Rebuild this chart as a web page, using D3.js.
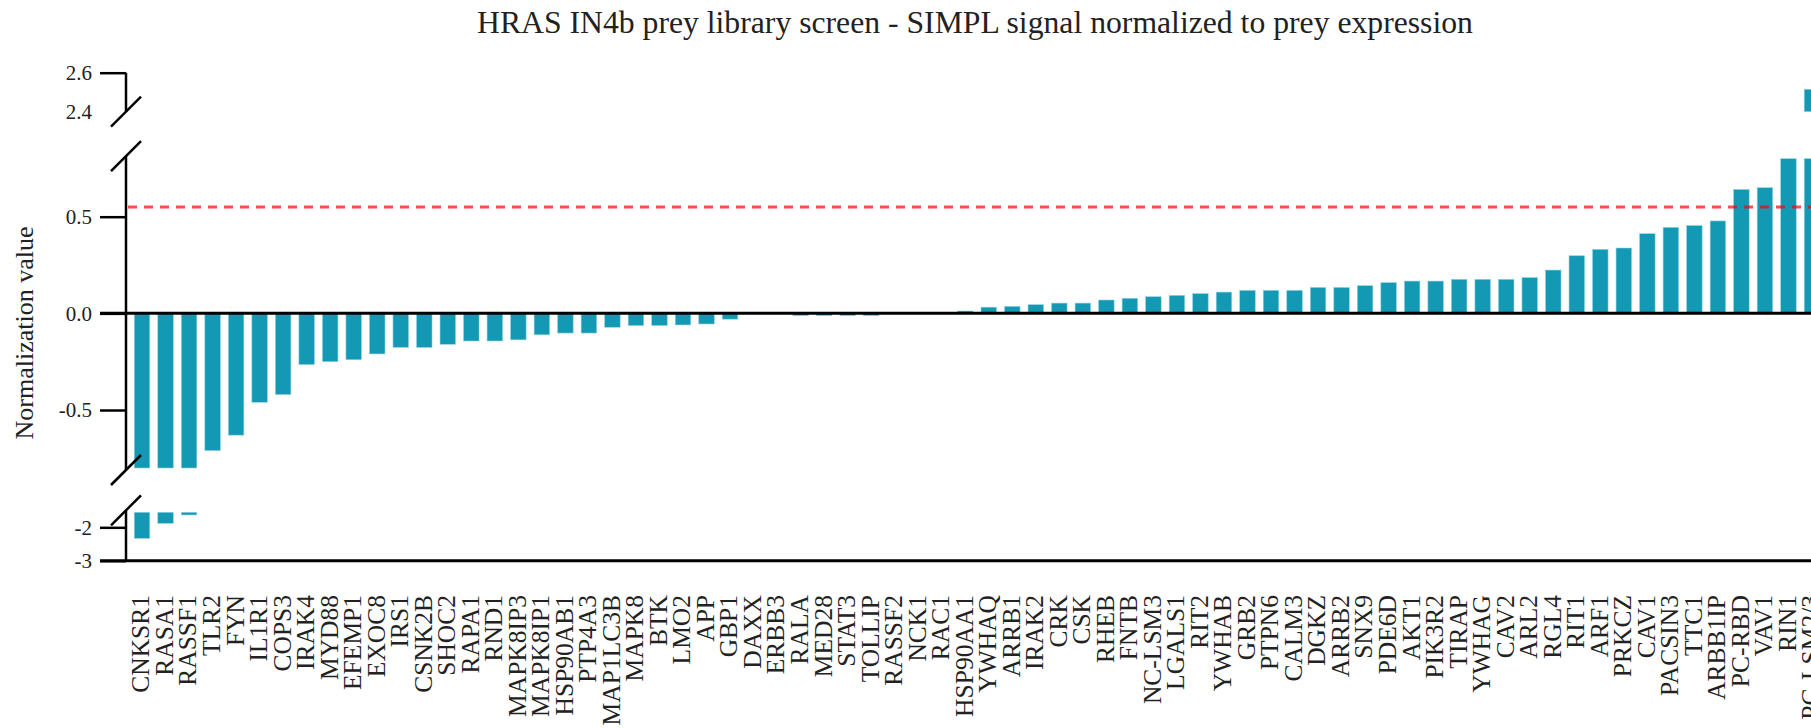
<!DOCTYPE html>
<html>
<head>
<meta charset="utf-8">
<script src="https://cdn.jsdelivr.net/npm/d3@7"></script>
<style>
  html, body { margin: 0; padding: 0; background: #fff; overflow: hidden; }
  text { font-family: "Liberation Serif", "Times New Roman", serif; }
</style>
</head>
<body>
<svg id="chart" width="1811" height="728"></svg>
<script>
// ---------------- data ----------------
const categories = [
  "CNKSR1","RASA1","RASSF1","TLR2","FYN","IL1R1","COPS3","IRAK4","MYD88","EFEMP1",
  "EXOC8","IRS1","CSNK2B","SHOC2","RAPA1","RND1","MAPK8IP3","MAPK8IP1","HSP90AB1","PTP4A3",
  "MAP1LC3B","MAPK8","BTK","LMO2","APP","GBP1","DAXX","ERBB3","RALA","MED28",
  "STAT3","TOLLIP","RASSF2","NCK1","RAC1","HSP90AA1","YWHAQ","ARRB1","IRAK2","CRK",
  "CSK","RHEB","FNTB","NC-LSM3","LGALS1","RIT2","YWHAB","GRB2","PTPN6","CALM3",
  "DGKZ","ARRB2","SNX9","PDE6D","AKT1","PIK3R2","TIRAP","YWHAG","CAV2","ARL2",
  "RGL4","RIT1","ARF1","PRKCZ","CAV1","PACSIN3","TTC1","ARBB1IP","PC-RBD","VAV1",
  "RIN1","PC-LSM2/3"
];
const values = [
  -2.33,-1.88,-1.63,-0.71,-0.63,-0.46,-0.42,-0.265,-0.25,-0.24,
  -0.21,-0.176,-0.176,-0.16,-0.143,-0.143,-0.137,-0.111,-0.102,-0.102,
  -0.072,-0.063,-0.063,-0.06,-0.055,-0.03,0,0,-0.012,-0.012,
  -0.012,-0.012,0,0,0,0.012,0.032,0.036,0.045,0.053,
  0.053,0.069,0.078,0.086,0.093,0.102,0.11,0.119,0.119,0.119,
  0.134,0.134,0.143,0.159,0.167,0.167,0.176,0.176,0.176,0.185,
  0.224,0.298,0.331,0.338,0.412,0.445,0.454,0.478,0.641,0.65,
  1.2,2.515
];
const threshold = 0.55;

// broken y-axis segments
const topDomain = [2.4, 2.6];
const midDomain = [-0.8, 0.8];
const botDomain = [-3, -1.55];
const topTicks = [2.6, 2.4];
const topTickLabels = ["2.6", "2.4"];
const midTicks = [0.5, 0.0, -0.5];
const midTickLabels = ["0.5", "0.0", "-0.5"];
const botTicks = [-2, -3];
const botTickLabels = ["-2", "-3"];

const title = "HRAS IN4b prey library screen - SIMPL signal normalized to prey expression";
const yTitle = "Normalization value";

// ---------------- layout ----------------
const svg = d3.select("#chart");
const axisX = 126;
const xRight = 1828;
const tickLen = 26;
const barColor = "#1399b3";

const x = d3.scaleBand().domain(categories).range([axisX, xRight])
  .paddingInner(0.34).paddingOuter(0.351);

const yTop = d3.scaleLinear().domain(topDomain).range([111.7, 72.7]);
const yMid = d3.scaleLinear().domain(midDomain).range([468, 158.7]);
const yBot = d3.scaleLinear().domain(botDomain).range([560.7, 512.3]);

const data = categories.map((c, i) => ({ c, v: values[i] }));

// title
svg.append("text")
  .attr("x", (axisX + xRight) / 2 - 2).attr("y", 33)
  .attr("text-anchor", "middle")
  .attr("font-size", 31.7).attr("fill", "#222")
  .text(title);

// y-axis title
svg.append("text")
  .attr("transform", "translate(24," + 333 + ") rotate(-90)")
  .attr("text-anchor", "middle").attr("dy", "0.35em")
  .attr("font-size", 26).attr("fill", "#222")
  .text(yTitle);

// bars - middle segment
const gBars = svg.append("g");
gBars.selectAll("rect.mid").data(data).join("rect")
  .attr("class", "mid")
  .attr("x", d => x(d.c)).attr("width", x.bandwidth())
  .attr("y", d => Math.min(yMid(0), yMid(Math.max(midDomain[0], Math.min(midDomain[1], d.v)))))
  .attr("height", d => Math.abs(yMid(Math.max(midDomain[0], Math.min(midDomain[1], d.v))) - yMid(0)))
  .attr("fill", barColor).attr("stroke", "#8fd3df").attr("stroke-width", 0.6);

// bars - top segment
gBars.selectAll("rect.top").data(data.filter(d => d.v > topDomain[0])).join("rect")
  .attr("class", "top")
  .attr("x", d => x(d.c)).attr("width", x.bandwidth())
  .attr("y", d => yTop(Math.min(d.v, topDomain[1])))
  .attr("height", d => yTop(topDomain[0]) - yTop(Math.min(d.v, topDomain[1])))
  .attr("fill", barColor).attr("stroke", "#8fd3df").attr("stroke-width", 0.6);

// bars - bottom segment
gBars.selectAll("rect.bot").data(data.filter(d => d.v < botDomain[1])).join("rect")
  .attr("class", "bot")
  .attr("x", d => x(d.c)).attr("width", x.bandwidth())
  .attr("y", yBot(botDomain[1]))
  .attr("height", d => yBot(Math.max(d.v, botDomain[0])) - yBot(botDomain[1]))
  .attr("fill", barColor).attr("stroke", "#8fd3df").attr("stroke-width", 0.6);

// threshold line
svg.append("line")
  .attr("x1", axisX + 2).attr("x2", xRight)
  .attr("y1", yMid(threshold)).attr("y2", yMid(threshold))
  .attr("stroke", "#ff0000").attr("stroke-opacity", 0.7)
  .attr("stroke-width", 3).attr("stroke-dasharray", "9,7");

// axes
function yAxis(scale, ticks, labels) {
  const ax = d3.axisLeft(scale).tickValues(ticks)
    .tickFormat((d, i) => labels[i]).tickSize(tickLen).tickPadding(8);
  const g = svg.append("g").attr("transform", "translate(" + axisX + ",0)").call(ax);
  g.select(".domain").remove();
  g.selectAll(".tick line").attr("stroke", "#000").attr("stroke-width", 2.5);
  g.selectAll(".tick text").attr("font-size", 21).attr("fill", "#222")
    .style("font-family", '"Liberation Serif", "Times New Roman", serif');
  return g;
}
const gTop = yAxis(yTop, topTicks, topTickLabels);
gTop.selectAll(".tick").filter(d => d === 2.4).select("line").remove();
yAxis(yMid, midTicks, midTickLabels);
yAxis(yBot, botTicks, botTickLabels);

// axis lines
const axG = svg.append("g").attr("stroke", "#000").attr("stroke-width", 2.5).attr("fill", "none");
axG.append("line").attr("x1", axisX).attr("x2", axisX).attr("y1", yTop(topDomain[1])).attr("y2", yTop(topDomain[0]));
axG.append("line").attr("x1", axisX).attr("x2", axisX).attr("y1", yMid(midDomain[1]) - 2.5).attr("y2", yMid(midDomain[0]) + 2);
axG.append("line").attr("x1", axisX).attr("x2", axisX).attr("y1", yBot(botDomain[1]) - 2).attr("y2", yBot(botDomain[0]));
// horizontal lines at 0 and bottom
axG.append("line").attr("x1", axisX - tickLen).attr("x2", 1811).attr("y1", yMid(0)).attr("y2", yMid(0)).attr("stroke-width", 3);
axG.append("line").attr("x1", axisX - tickLen).attr("x2", 1811).attr("y1", yBot(botDomain[0])).attr("y2", yBot(botDomain[0])).attr("stroke-width", 3);

// break marks
const breaks = [yTop(topDomain[0]), yMid(midDomain[1]) - 2.5, yMid(midDomain[0]) + 2, yBot(botDomain[1]) - 2];
axG.selectAll("path.brk").data(breaks).join("path")
  .attr("class", "brk")
  .attr("d", y => "M" + (axisX - 15) + "," + (y + 15) + "L" + (axisX + 15) + "," + (y - 15));

// x labels
svg.append("g").selectAll("text").data(categories).join("text")
  .attr("transform", d => "translate(" + (x(d) + x.bandwidth() / 2) + ",595) rotate(-90)")
  .attr("text-anchor", "end").attr("dy", "0.29em")
  .attr("font-size", 25.5).attr("fill", "#222")
  .text(d => d);
</script>
</body>
</html>
